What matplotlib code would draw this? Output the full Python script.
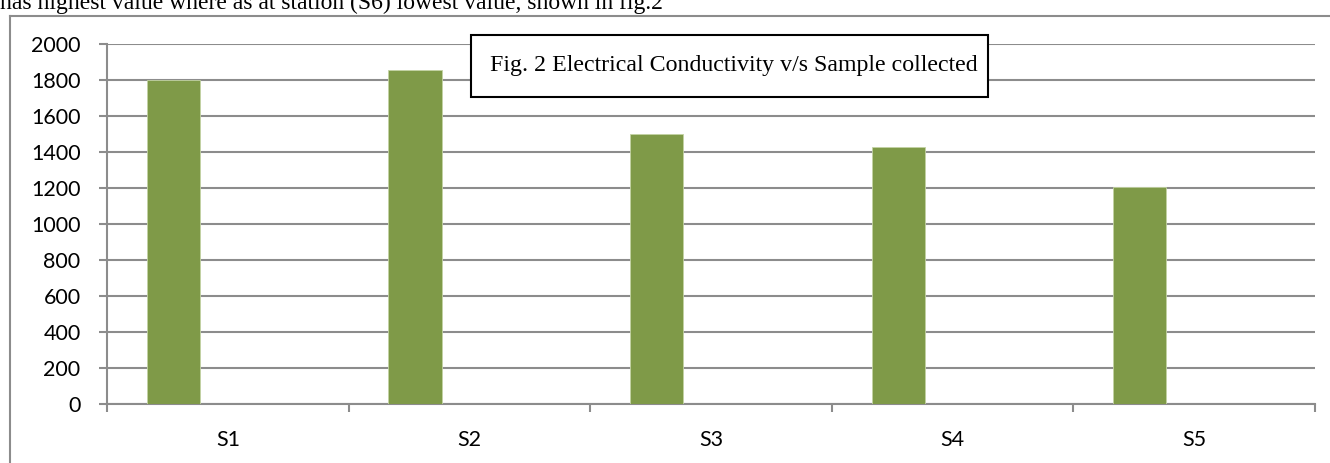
import numpy as np
import matplotlib.pyplot as plt
from matplotlib.lines import Line2D
from matplotlib.patches import Rectangle

samples = ["S1", "S2", "S3", "S4", "S5"]
conductivity = [1800, 1855, 1500, 1430, 1205]
y_ticks = [0, 200, 400, 600, 800, 1000, 1200, 1400, 1600, 1800, 2000]
title = "Fig. 2 Electrical Conductivity v/s Sample collected"
body_line = "has highest value where as at station (S6) lowest value, shown in fig.2"

W, H = 1330, 463
grey = "#8c8c8c"
green = "#7f9a48"

fig = plt.figure(figsize=(W / 100, H / 100), dpi=100)

# surrounding text line, cut off at the top edge
fig.text(0 / W, 1 - 9 / H, body_line, family="Liberation Serif", fontsize=17,
         ha="left", va="baseline", color="black")

# chart frame (only top and left edges are visible)
fig.add_artist(Line2D([10 / W, 1.0], [1 - 16 / H, 1 - 16 / H],
                      transform=fig.transFigure, color=grey, lw=1.5))
fig.add_artist(Line2D([10 / W, 10 / W], [0, 1 - 16 / H],
                      transform=fig.transFigure, color=grey, lw=1.5))

ax = fig.add_axes([107 / W, 1 - 404 / H, (1315 - 107) / W, 360 / H])
x = np.arange(len(samples))
ax.bar(x - 0.225, conductivity, width=0.22, color=green,
       edgecolor="#c3d3a3", linewidth=0.6, zorder=3)

ax.set_xlim(-0.5, len(samples) - 0.5)
ax.set_ylim(0, 2000)
ax.set_yticks(y_ticks)
ax.set_xticks(x)
ax.set_xticklabels(samples)
ax.set_xticks(np.arange(len(samples) + 1) - 0.5, minor=True)

ax.yaxis.grid(True, color=grey, linewidth=1.5)
ax.set_axisbelow(True)
for s in ["top", "right"]:
    ax.spines[s].set_visible(False)
for s in ["left", "bottom"]:
    ax.spines[s].set_color(grey)
    ax.spines[s].set_linewidth(1.5)

ax.tick_params(axis="y", length=6, width=1.5, color=grey, pad=13,
               labelsize=15.5, direction="out")
ax.tick_params(axis="x", which="major", length=0, pad=19, labelsize=15.5)
ax.tick_params(axis="x", which="minor", length=6, width=1.5, color=grey,
               direction="out")
for lab in ax.get_xticklabels() + ax.get_yticklabels():
    lab.set_family("Lato")

# title box
fig.add_artist(Rectangle((471 / W, 1 - 97 / H), (988 - 471) / W, 62 / H,
                         transform=fig.transFigure, facecolor="white",
                         edgecolor="black", lw=1.5, zorder=5))
fig.text(490 / W, 1 - 66 / H, title, family="Liberation Serif", fontsize=17.2,
         ha="left", va="center", zorder=6)

fig.savefig("out.png", dpi=100)
